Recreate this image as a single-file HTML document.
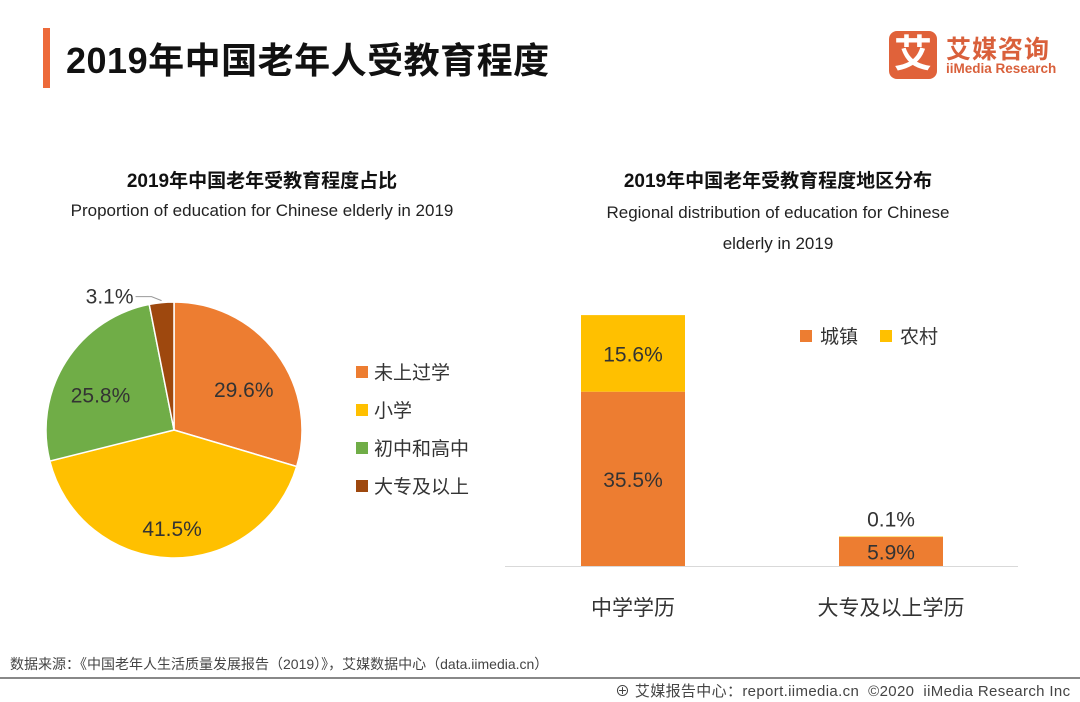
<!DOCTYPE html>
<html><head><meta charset="utf-8"><style>
body{margin:0;width:1080px;height:702px;background:#fff;overflow:hidden;font-family:"Liberation Sans","Noto Sans CJK SC",sans-serif;position:relative}
.a{position:absolute;white-space:nowrap}
</style></head><body>
<div class="a" style="left:43px;top:28px;width:7px;height:60px;background:#ED6A3A"></div>
<div class="a" style="left:66px;top:32px;font-size:36px;font-weight:bold;color:#111;letter-spacing:0.5px">2019年中国老年人受教育程度</div>
<div class="a" style="left:889px;top:31px;width:48px;height:48px;background:#E0623A;border-radius:8px;color:#fff;font-size:38px;font-weight:bold;text-align:center;line-height:48px">艾</div>
<div class="a" style="left:946px;top:30px;font-size:25px;font-weight:bold;color:#D9603B;letter-spacing:1px">艾媒咨询</div>
<div class="a" style="left:946px;top:61px;font-size:13.5px;font-weight:bold;color:#D9603B">iiMedia Research</div>

<div class="a" style="left:0;width:524px;text-align:center;top:166px;font-size:19px;font-weight:bold;color:#111">2019年中国老年受教育程度占比</div>
<div class="a" style="left:0;width:524px;text-align:center;top:201px;font-size:17px;color:#222">Proportion of education for Chinese elderly in 2019</div>
<div class="a" style="left:518px;width:520px;text-align:center;top:166px;font-size:19px;font-weight:bold;color:#111">2019年中国老年受教育程度地区分布</div>
<div class="a" style="left:518px;width:520px;text-align:center;top:197px;font-size:17px;color:#222;line-height:31px;white-space:normal;padding:0 70px;box-sizing:border-box">Regional distribution of education for Chinese elderly in 2019</div>

<svg id="chart" width="1080" height="702" style="position:absolute;left:0;top:0"></svg>

<div class="a" style="left:10px;top:654px;font-size:14px;color:#444">数据来源：《中国老年人生活质量发展报告（2019）》，艾媒数据中心（data.iimedia.cn）</div>
<div class="a" style="left:0;top:677px;width:1080px;height:2px;background:#888"></div>
<div class="a" style="left:615px;top:680px;font-size:15px;color:#444;letter-spacing:0.35px">⊕ 艾媒报告中心：report.iimedia.cn &nbsp;©2020 &nbsp;iiMedia Research Inc</div>

<script>
const pieCats=["未上过学","小学","初中和高中","大专及以上"];
const pieVals=[29.6,41.5,25.8,3.1];
const pieColors=["#ED7D31","#FFC000","#70AD47","#9E480E"];
const barCats=["中学学历","大专及以上学历"];
const urban=[35.5,5.9];
const rural=[15.6,0.1];
const seriesNames=["城镇","农村"];
const NS="http://www.w3.org/2000/svg";
const svg=document.getElementById("chart");
function mk(t,a,p){const e=document.createElementNS(NS,t);for(const k in a)e.setAttribute(k,a[k]);(p||svg).appendChild(e);return e;}
const cx=174,cy=430,r=128;
const tot=pieVals.reduce((a,b)=>a+b,0);
let ang=0;
pieVals.forEach((v,i)=>{
  const a0=ang/tot*2*Math.PI,a1=(ang+v)/tot*2*Math.PI;ang+=v;
  const x0=cx+r*Math.sin(a0),y0=cy-r*Math.cos(a0),x1=cx+r*Math.sin(a1),y1=cy-r*Math.cos(a1);
  const p=mk("path",{d:`M${cx},${cy}L${x0},${y0}A${r},${r} 0 ${a1-a0>Math.PI?1:0} 1 ${x1},${y1}Z`,fill:pieColors[i],stroke:"#fff","stroke-width":1.5});
  
  
  const m=(a0+a1)/2;
  let t;
  if(v<5){
    const ex=cx+r*Math.sin(m),ey=cy-r*Math.cos(m);
    mk("polyline",{points:`${ex},${ey-2} ${ex-10},${ey-6} ${ex-26},${ey-6}`,fill:"none",stroke:"#999"});
    t=mk("text",{x:ex-28,y:ey+1,"text-anchor":"end","font-size":21,fill:"#333"});
  }else{
    const lx=cx+r*0.68*Math.sin(m),ly=cy-r*0.68*Math.cos(m);
    t=mk("text",{x:lx,y:ly+19,"text-anchor":"middle","font-size":21,fill:"#333"});
  }
  t.textContent=v.toFixed(1)+"%";
  
  
  const ly2=372+i*38;
  const s=mk("rect",{x:356,y:ly2-6,width:12,height:12,fill:pieColors[i]});
  
  
  const lt=mk("text",{x:374,y:ly2+7,"font-size":19,fill:"#333"});
  lt.textContent=pieCats[i];
  
  
});
const base=566,k=4.91,bw=104;
const ax=mk("line",{x1:505,x2:1018,y1:base+0.5,y2:base+0.5,stroke:"#d9d9d9","stroke-width":1});


const xc=i=>633+i*258;
barCats.forEach((c,i)=>{
  const hu=urban[i]*k,hr=rural[i]*k;
  const b1=mk("rect",{x:xc(i)-bw/2,y:base-hu,width:bw,height:hu,fill:"#ED7D31"});
  
  
  const b2=mk("rect",{x:xc(i)-bw/2,y:base-hu-hr,width:bw,height:hr,fill:"#FFC000"});
  
  
  const t1=mk("text",{x:xc(i),y:base-hu/2+8,"text-anchor":"middle","font-size":21,fill:"#333"});
  t1.textContent=urban[i].toFixed(1)+"%";
  
  
  const t2=mk("text",{x:xc(i),y:hr>20?base-hu-hr/2+8:base-hu-hr-10,"text-anchor":"middle","font-size":21,fill:"#333"});
  t2.textContent=rural[i].toFixed(1)+"%";
  
  
  const cl=mk("text",{x:xc(i),y:615,"text-anchor":"middle","font-size":21,fill:"#333"});
  cl.textContent=c;
  
  
});
["#ED7D31","#FFC000"].forEach((col,i)=>{
  const x=800+i*80;
  const s=mk("rect",{x:x,y:330,width:12,height:12,fill:col});
  
  
  const t=mk("text",{x:x+20,y:343,"font-size":19,fill:"#333"});
  t.textContent=seriesNames[i];
  
  
});
</script>
</body></html>
